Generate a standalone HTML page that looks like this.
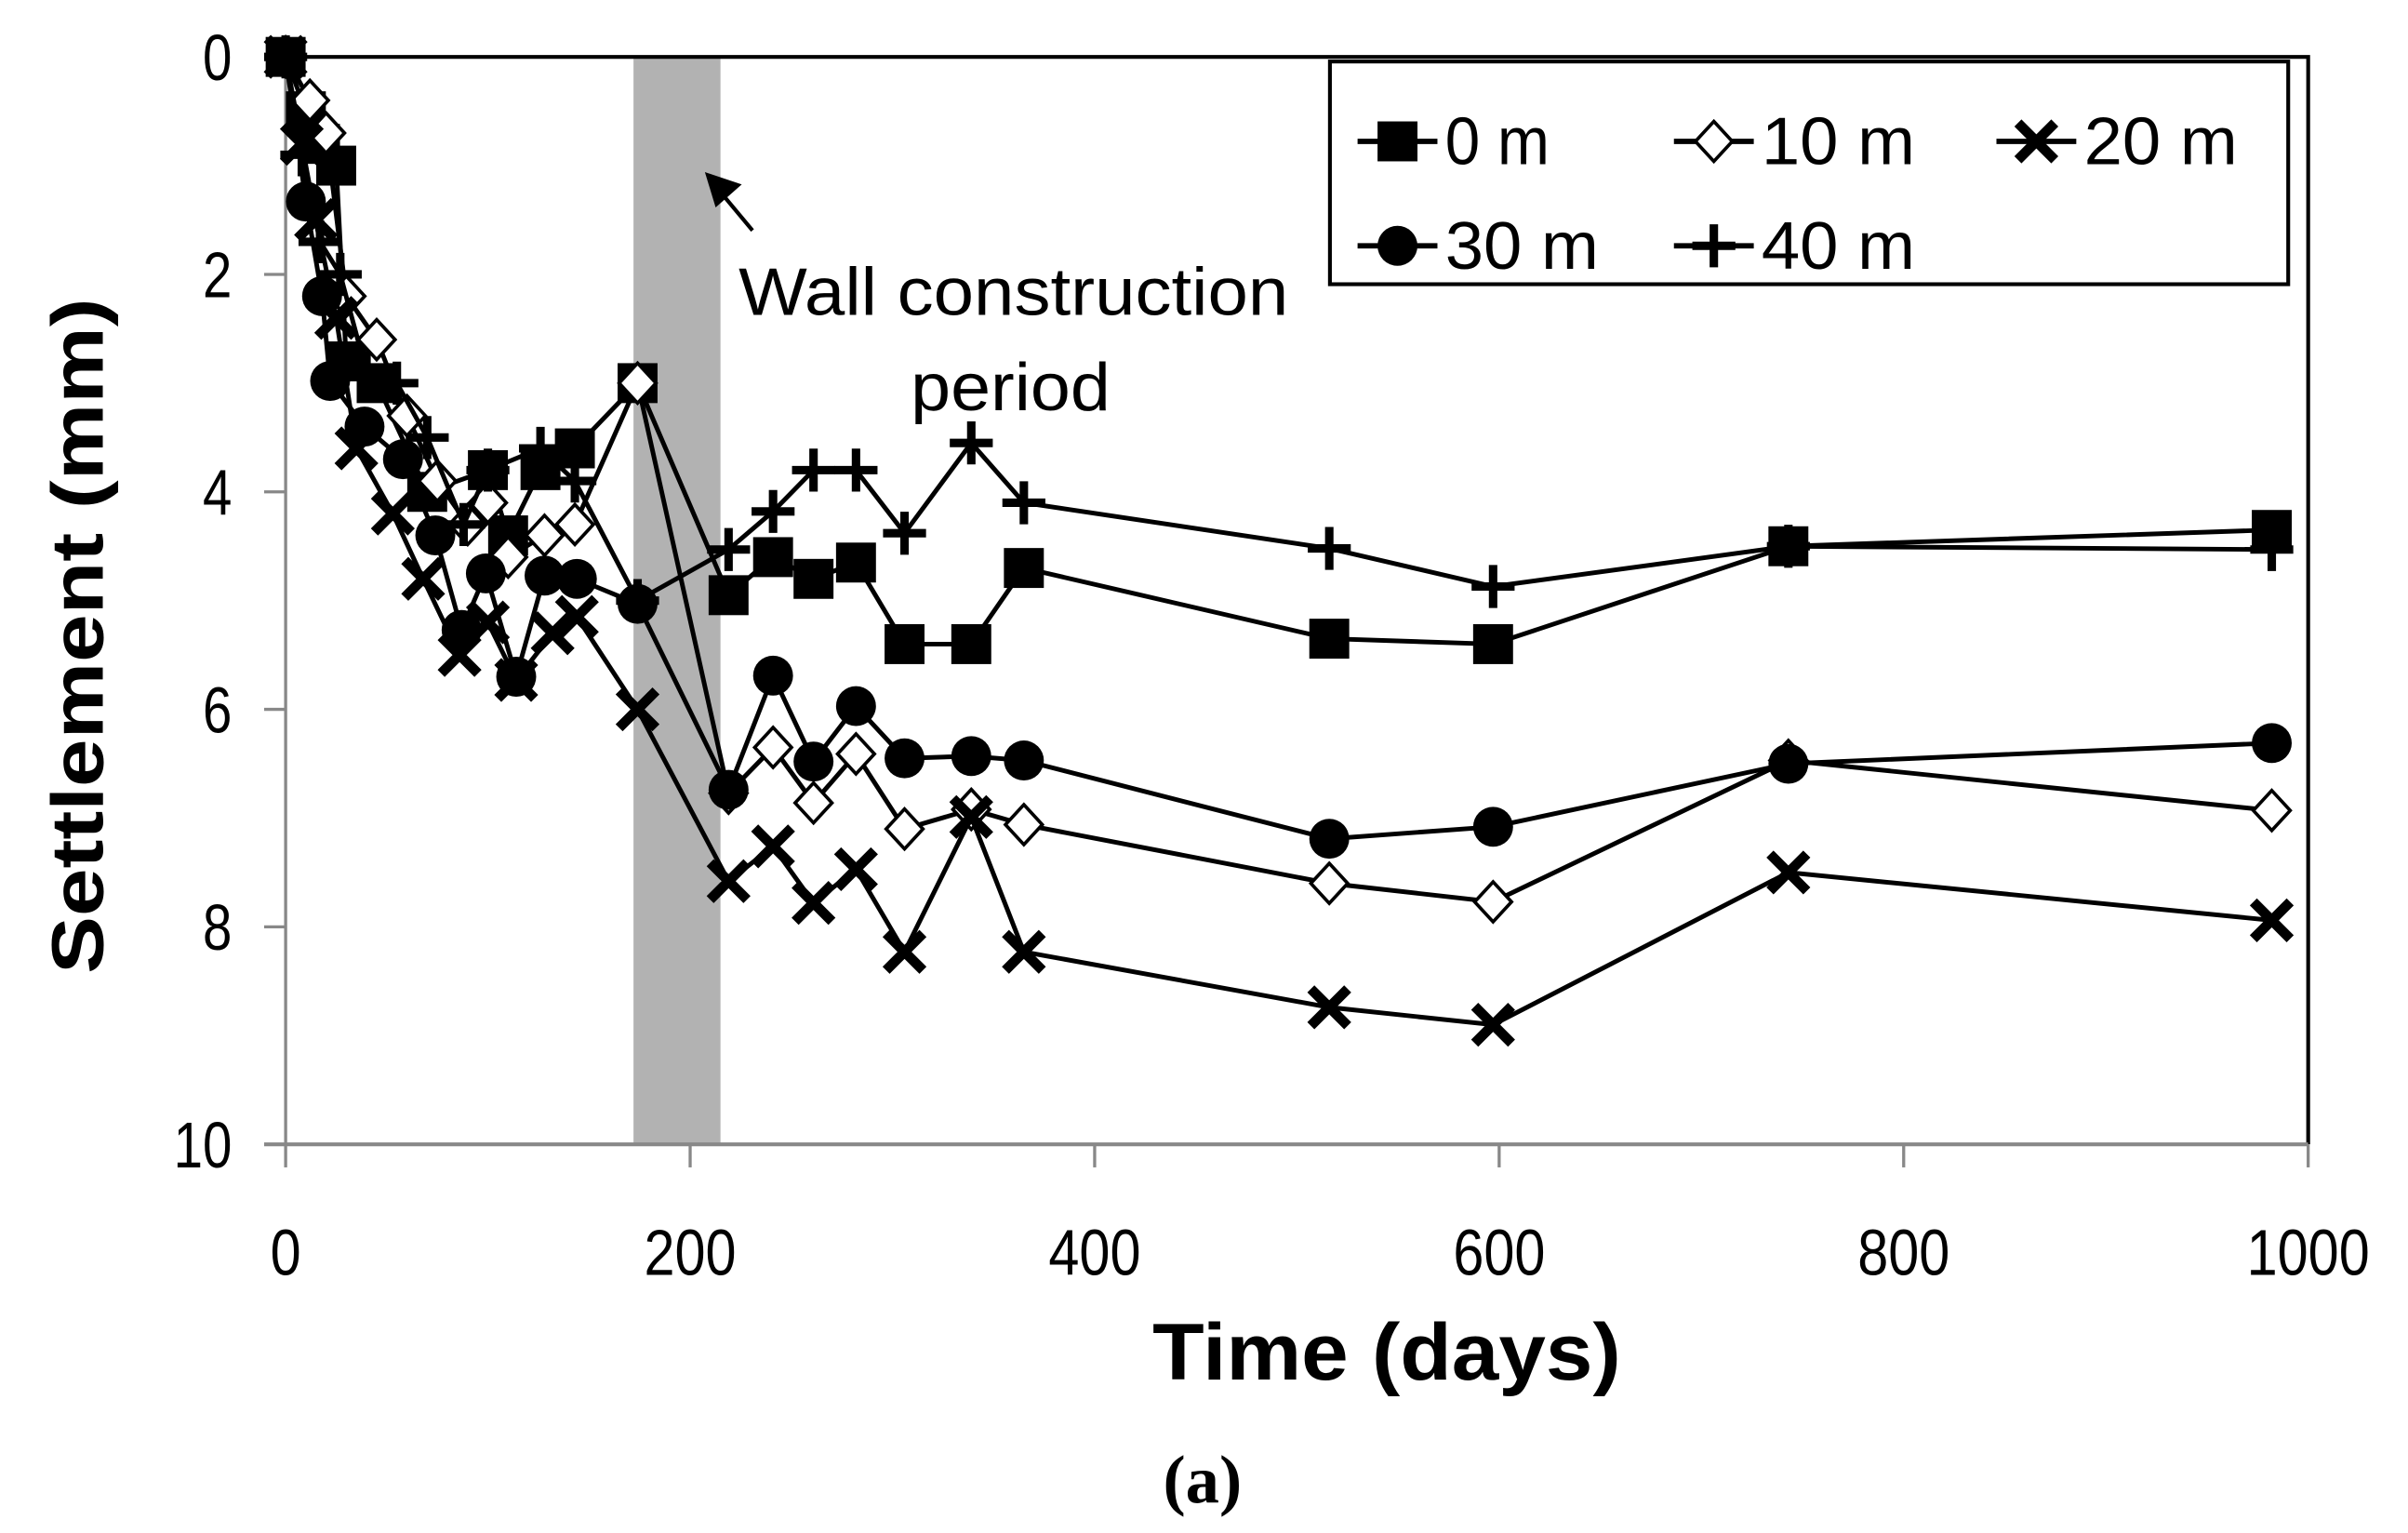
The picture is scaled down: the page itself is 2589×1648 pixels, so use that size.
<!DOCTYPE html>
<html><head><meta charset="utf-8"><style>
html,body{margin:0;padding:0;background:#fff}
svg{display:block}
text{font-family:"Liberation Sans",sans-serif}
</style></head><body>
<svg id="chart" width="2589" height="1648" viewBox="0 0 1568 998" xmlns="http://www.w3.org/2000/svg">
<rect x="0" y="0" width="1568" height="998" fill="#fff"/>
<g id="plot"></g>
</svg>
<script>
const days0=[0,10,17,25,30,45,70,100,110,126,143,174,219,241,261,282,306,339,365,516,597,743,982];
const vals0=[0,0.5,0.8,1.0,2.8,3.0,4.0,3.8,4.4,3.8,3.6,3.0,4.95,4.6,4.8,4.65,5.4,5.4,4.7,5.35,5.4,4.5,4.35];
const days10=[0,12,20,30,45,60,75,90,100,110,128,143,174,219,241,261,282,306,339,365,516,597,743,982];
const vals10=[0,0.4,0.7,2.2,2.6,3.3,3.9,4.3,4.1,4.6,4.4,4.3,3.0,6.77,6.35,6.86,6.41,7.1,6.92,7.06,7.6,7.77,6.47,6.93];
const days20=[0,8,15,25,35,53,68,86,100,114,132,144,174,219,241,261,282,306,339,365,516,597,743,982];
const vals20=[0,0.8,1.5,2.4,3.6,4.2,4.8,5.5,5.2,5.73,5.3,5.15,6.0,7.58,7.26,7.78,7.47,8.23,6.99,8.23,8.74,8.9,7.5,7.94];
const days30=[0,10,18,22,39,58,74,87,99,114,128,144,174,219,241,261,282,306,339,365,516,597,743,982];
const vals30=[0,1.33,2.2,2.98,3.4,3.7,4.4,5.27,4.75,5.7,4.77,4.8,5.03,6.74,5.69,6.48,5.97,6.45,6.43,6.47,7.19,7.08,6.5,6.31];
const days40=[0,8,17,27,40,55,70,88,100,126,143,174,219,241,261,282,306,339,365,516,597,743,982];
const vals40=[0,0.9,1.7,2.0,2.9,3.0,3.5,4.3,3.8,3.6,3.9,5.0,4.53,4.18,3.8,3.8,4.38,3.55,4.1,4.52,4.87,4.5,4.53];
const xTicks=[0,200,400,600,800,1000];
const yTicks=[0,2,4,6,8,10];
const wallPeriod=[172,215];

const NS="http://www.w3.org/2000/svg";
const g=document.getElementById('plot');
const L=186,R=1503,T=37,B=745;
const xs=d=>L+(d/1000)*(R-L);
const ys=v=>T+(v/10)*(B-T);
function mk(tag,attrs,parent){const e=document.createElementNS(NS,tag);for(const k in attrs)e.setAttribute(k,attrs[k]);(parent||g).appendChild(e);return e;}

const band=mk('rect',{x:xs(wallPeriod[0]),y:T,width:xs(wallPeriod[1])-xs(wallPeriod[0]),height:B-T,fill:'#b2b2b2'});



const fr=mk('path',{d:`M${L},${T} H${R} V${B}`,fill:'none',stroke:'#000','stroke-width':2.5});


const ya=mk('line',{x1:L,y1:T,x2:L,y2:B,stroke:'#888','stroke-width':2});


const xa=mk('line',{x1:172,y1:B,x2:R,y2:B,stroke:'#888','stroke-width':2.5});



yTicks.forEach(v=>{
  const t=mk('line',{x1:172,y1:ys(v),x2:L,y2:ys(v),stroke:'#888','stroke-width':2});
  
  
  const tx=mk('text',{x:151,y:ys(v)+15,'text-anchor':'end','font-size':42,textLength:String(v).length*19,lengthAdjust:'spacingAndGlyphs'});
  tx.textContent=v;
  
  
});
xTicks.forEach(v=>{
  const t=mk('line',{x1:xs(v),y1:B,x2:xs(v),y2:760,stroke:'#888','stroke-width':2});
  
  
  const tx=mk('text',{x:xs(v),y:830,'text-anchor':'middle','font-size':42,textLength:String(v).length*20,lengthAdjust:'spacingAndGlyphs'});
  tx.textContent=v;
  
  
});

function marker(type,x,y,parent){
  const p=parent||g;
  if(type==='square')return mk('rect',{x:x-13,y:y-13,width:26,height:26,fill:'#000'},p);
  if(type==='diamond')return mk('path',{d:`M${x},${y-13} L${x+12},${y} L${x},${y+13} L${x-12},${y} Z`,fill:'#fff',stroke:'#000','stroke-width':2.2},p);
  if(type==='circle')return mk('circle',{cx:x,cy:y,r:13,fill:'#000'},p);
  if(type==='x')return mk('path',{d:`M${x-12},${y-12} L${x+12},${y+12} M${x+12},${y-12} L${x-12},${y+12}`,stroke:'#000','stroke-width':6.5,fill:'none'},p);
  if(type==='plus')return mk('path',{d:`M${x-14},${y} H${x+14} M${x},${y-14} V${y+14}`,stroke:'#000','stroke-width':5.5,fill:'none'},p);
}
const series=[
  {name:'0m',days:days0,vals:vals0,type:'square'},
  {name:'10m',days:days10,vals:vals10,type:'diamond'},
  {name:'20m',days:days20,vals:vals20,type:'x'},
  {name:'30m',days:days30,vals:vals30,type:'circle'},
  {name:'40m',days:days40,vals:vals40,type:'plus'}
];
series.forEach(s=>{
  const sg=mk('g',{});
  
  
  const pts=s.days.map((d,i)=>xs(d)+','+ys(s.vals[i])).join(' ');
  const pl=mk('polyline',{points:pts,fill:'none',stroke:'#000','stroke-width':3},sg);
  
  
  s.days.forEach((d,i)=>{
    const m=marker(s.type,xs(d),ys(s.vals[i]),sg);
    
    
  });
});

const lg=mk('g',{});


mk('rect',{x:866,y:40,width:624,height:145,fill:'#fff',stroke:'#000','stroke-width':2.5},lg);
const lent=[['square','0 m',884,92,68],['diamond','10 m',1090,92,100],['x','20 m',1300,92,100],['circle','30 m',884,160,100],['plus','40 m',1090,160,100]];
lent.forEach(e=>{
  const eg=mk('g',{},lg);
  
  
  mk('line',{x1:e[2],y1:e[3],x2:e[2]+52,y2:e[3],stroke:'#000','stroke-width':3.5},eg);
  marker(e[0],e[2]+26,e[3],eg);
  const t=mk('text',{x:e[2]+57,y:e[3]+15,'font-size':44,textLength:e[4],lengthAdjust:'spacingAndGlyphs'},eg);
  t.textContent=e[1];
});

const an=mk('g',{});


mk('line',{x1:490,y1:150,x2:470,y2:126,stroke:'#000','stroke-width':2.5},an);
mk('path',{d:'M459,112 L483,120 L466,135 Z',fill:'#000'},an);
const a1=mk('text',{x:660,y:205,'text-anchor':'middle','font-size':44,textLength:358,lengthAdjust:'spacingAndGlyphs'},an);a1.textContent='Wall construction';
const a2=mk('text',{x:658,y:267,'text-anchor':'middle','font-size':44,textLength:130,lengthAdjust:'spacingAndGlyphs'},an);a2.textContent='period';

const yt=mk('text',{x:0,y:0,'text-anchor':'middle','font-size':48,'font-weight':'bold',transform:'translate(67,414) rotate(-90)',textLength:440,lengthAdjust:'spacingAndGlyphs'});
yt.textContent='Settlement (mm)';


const xt=mk('text',{x:903,y:898,'text-anchor':'middle','font-size':52,'font-weight':'bold',textLength:305,lengthAdjust:'spacingAndGlyphs'});
xt.textContent='Time (days)';


const cap=mk('text',{x:783,y:978,'text-anchor':'middle','font-size':44,'font-weight':'bold',style:'font-family:"Liberation Serif",serif'});
cap.textContent='(a)';


</script>
</body></html>
